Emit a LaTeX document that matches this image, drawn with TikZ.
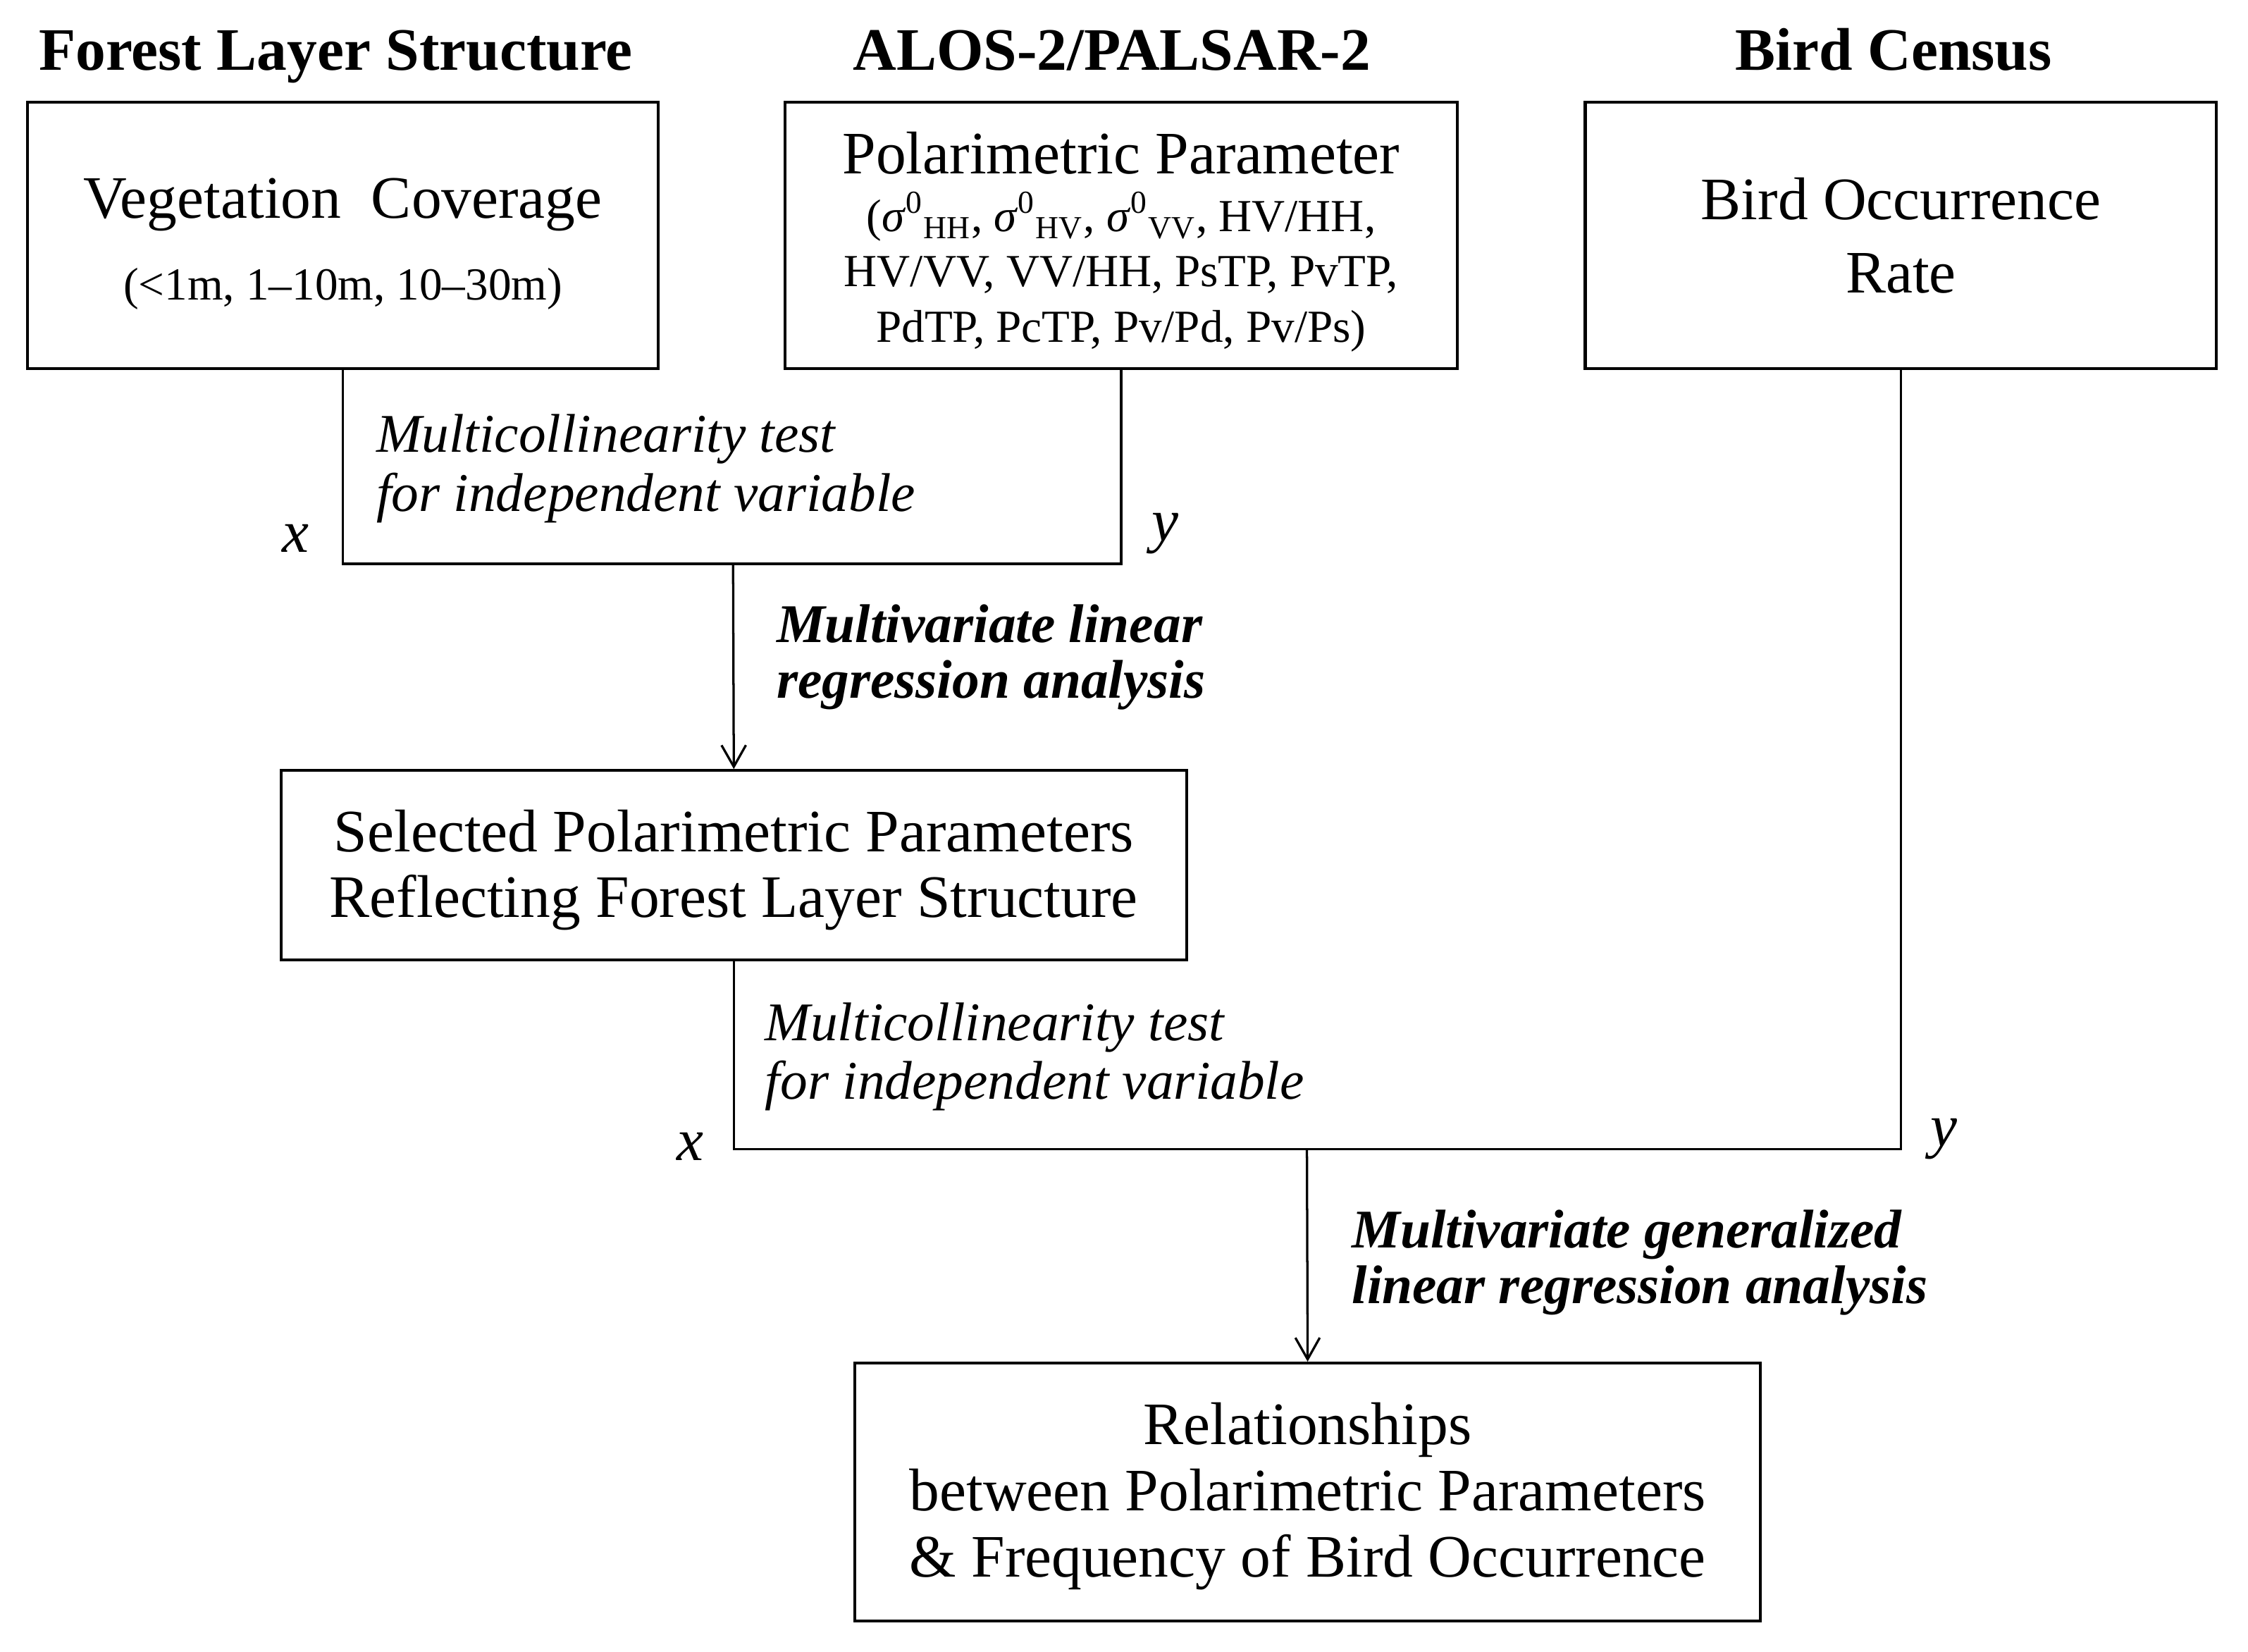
\documentclass[tikz,border=0pt]{standalone}
\usepackage{fontspec}
\setmainfont{Liberation Serif}
\usetikzlibrary{positioning,arrows.meta}

\begin{document}
\begin{tikzpicture}[x=0.5pt, y=-0.5pt,
    box/.style={draw, line width=1pt, inner sep=0pt, align=center, font=\fontsize{21}{23}\selectfont},
    smallbox/.style={box, font=\fontsize{16}{19.3}\selectfont},
    heading/.style={anchor=base, font=\bfseries\fontsize{21}{25}\selectfont},
    note/.style={anchor=west, align=left, inner sep=0pt, font=\itshape\fontsize{19}{20.5}\selectfont},
    method/.style={anchor=west, align=left, inner sep=0pt, font=\bfseries\itshape\fontsize{19}{19.5}\selectfont},
    var/.style={inner sep=0pt, font=\itshape\fontsize{21}{25}\selectfont},
    link/.style={line width=0.8pt},
    flow/.style={line width=0.8pt, -{Straight Barb[length=7.5pt, width=8.5pt]}}]
    \useasboundingbox (0,0) rectangle (1567,1151);
    % Data sources
    \node[heading] (forestTitle) at (234,49) {Forest Layer Structure};
    \node[heading] (alosTitle) at (775,49) {ALOS-2/PALSAR-2};
    \node[heading] (birdTitle) at (1320,49) {Bird Census};
    \node[box, minimum width=220pt, minimum height=93pt] (coverage) at (239,164)
        {\rule{0pt}{20pt}Vegetation\ \ Coverage\\[5.5pt]\fontsize{16}{19}\selectfont (<1m, 1--10m, 10--30m)};
    \node[smallbox, minimum width=234.5pt, minimum height=93pt] (polParam) at (781.5,164)
        {{\fontsize{21}{23}\selectfont\rule{0pt}{19.2pt}Polarimetric Parameter}\\[0.8pt]
         (\textit{σ}\textsuperscript{0}\textsubscript{HH}, \textit{σ}\textsuperscript{0}\textsubscript{HV}, \textit{σ}\textsuperscript{0}\textsubscript{VV}, HV/HH,\\
         HV/VV, VV/HH, PsTP, PvTP,\\
         PdTP, PcTP, Pv/Pd, Pv/Ps)};
    \node[box, minimum width=220pt, minimum height=93pt] (birdRate) at (1325,164)
        {Bird Occurrence\\[2.5pt]Rate};
    % First regression
    \node[box, minimum width=315.5pt, minimum height=66pt] (selected) at (511.5,603)
        {\rule{0pt}{18pt}Selected Polarimetric Parameters\\Reflecting Forest Layer Structure};
    \coordinate (mergeA) at (511,393);
    \draw[link] (coverage.south) |- (mergeA) -| (polParam.south);
    \draw[flow] (mergeA) -- (selected.north);
    \node[note] (testA) at (262,326.5) {Multicollinearity test\\for independent variable};
    \node[var] (xA) at (206,375) {x};
    \node[var] (yA) at (812,372) {y};
    \node[method] (mlr) at (541,458) {Multivariate linear\\regression analysis};
    % Second regression
    \node[box, minimum width=315.5pt, minimum height=90pt] (relation) at (911.5,1040)
        {\rule{0pt}{17.5pt}Relationships\\between Polarimetric Parameters\\\& Frequency of Bird Occurrence};
    \coordinate (mergeB) at (911,801);
    \draw[link] (selected.south) |- (mergeB) -| (birdRate.south);
    \draw[flow] (mergeB) -- (relation.north);
    \node[note] (testB) at (533,736.5) {Multicollinearity test\\for independent variable};
    \node[var] (xB) at (481,799) {x};
    \node[var] (yB) at (1355,794) {y};
    \node[method] (mglr) at (942,880) {Multivariate generalized\\linear regression analysis};
\end{tikzpicture}
\end{document}
